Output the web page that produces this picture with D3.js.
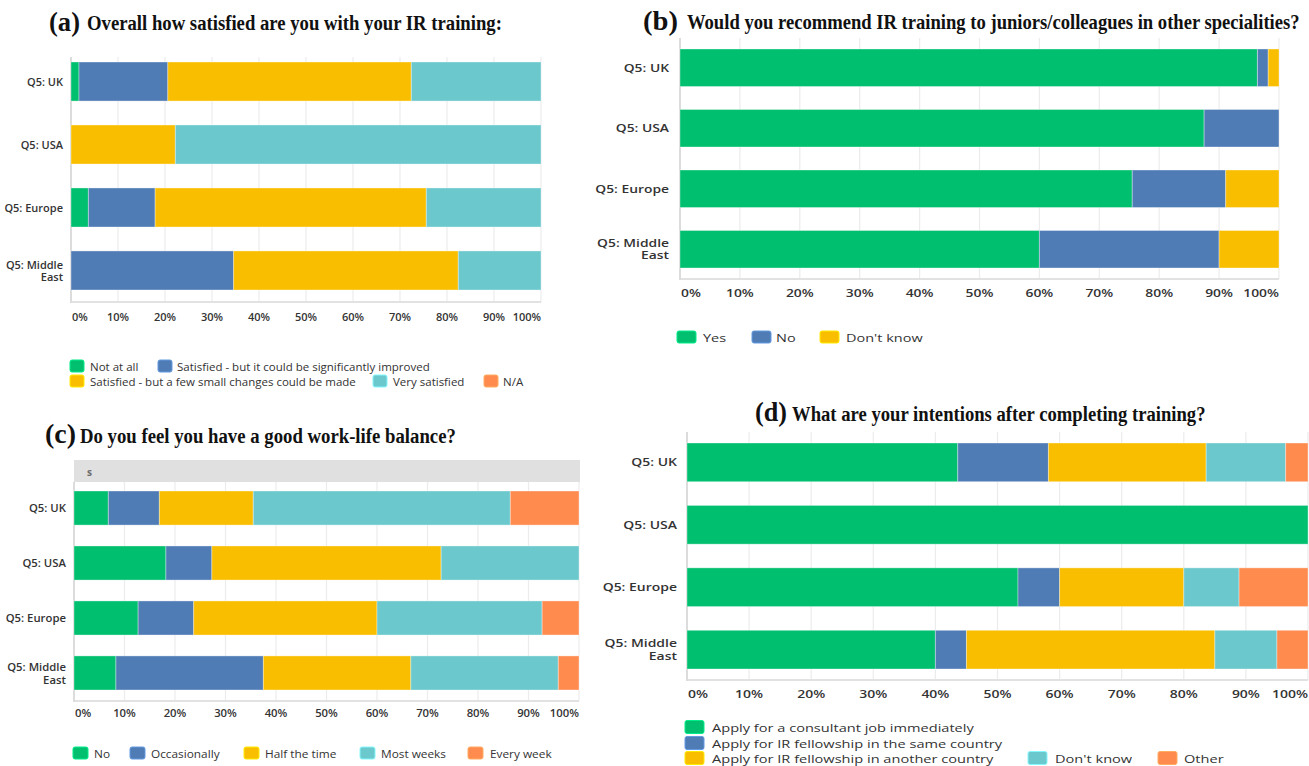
<!DOCTYPE html>
<html>
<head>
<meta charset="utf-8">
<script src="https://cdn.jsdelivr.net/npm/d3@7"></script>
<style>
  html, body { margin: 0; padding: 0; background: #fff; }
  svg { display: block; }
</style>
</head>
<body>
<svg id="chart" width="1309" height="766"></svg>
<script>
// ---- Data -----------------------------------------------------------------
const regions = ["Q5: UK", "Q5: USA", "Q5: Europe", "Q5: Middle East"];
const tickValues = [0, 10, 20, 30, 40, 50, 60, 70, 80, 90, 100];
const tickLabels = ["0%", "10%", "20%", "30%", "40%", "50%", "60%", "70%", "80%", "90%", "100%"];
const palette = ["#00BF6F", "#507CB6", "#F9BE00", "#6BC8CD", "#FF8B4F"];

// (a) satisfaction with training — one row per answer, values per region (%)
const satisfactionAnswers = [
  "Not at all",
  "Satisfied - but it could be significantly improved",
  "Satisfied - but a few small changes could be made",
  "Very satisfied",
  "N/A"
];
const satisfactionValues = [
  [1.7, 0, 3.7, 0],
  [18.9, 0, 14.2, 34.6],
  [51.8, 22.2, 57.7, 47.8],
  [27.6, 77.8, 24.4, 17.6],
  [0, 0, 0, 0]
];

// (b) would recommend IR training
const recommendAnswers = ["Yes", "No", "Don't know"];
const recommendValues = [
  [96.4, 87.5, 75.5, 60.0],
  [1.8, 12.5, 15.6, 30.0],
  [1.8, 0, 8.9, 10.0]
];

// (c) work-life balance
const balanceAnswers = ["No", "Occasionally", "Half the time", "Most weeks", "Every week"];
const balanceValues = [
  [6.8, 18.2, 12.7, 8.3],
  [10.1, 9.1, 11.0, 29.2],
  [18.6, 45.4, 36.3, 29.2],
  [50.9, 27.3, 32.7, 29.2],
  [13.6, 0, 7.3, 4.1]
];

// (d) intentions after training
const intentionAnswers = [
  "Apply for a consultant job immediately",
  "Apply for IR fellowship in the same country",
  "Apply for IR fellowship in another country",
  "Don't know",
  "Other"
];
const intentionValues = [
  [43.6, 100, 53.3, 40.0],
  [14.6, 0, 6.7, 5.0],
  [25.4, 0, 20.0, 40.0],
  [12.8, 0, 8.9, 10.0],
  [3.6, 0, 11.1, 5.0]
];

// ---- Panel layouts --------------------------------------------------------
const panels = [
  {
    tag: "(a)", title: "Overall how satisfied are you with your IR training:",
    answers: satisfactionAnswers, values: satisfactionValues,
    x0: 71, x1: 541, plotTop: 57, axisY: 302, barTop: 62, barBottom: 290,
    labelGap: 8, tickY: 316, sx: 1.0,
    titleTag: { x: 49, y: 31, len: 31, size: 28 },
    titleMain: { x: 87, y: 30, len: 415, size: 20 },
    swatch: { w: 14, h: 12 },
    legend: [[70, 90, 366], [158, 177, 366], [70, 90, 381], [373, 393, 381], [484, 503, 381]]
  },
  {
    tag: "(b)", title: "Would you recommend IR training to juniors/colleagues in other specialities?",
    answers: recommendAnswers, values: recommendValues,
    x0: 680, x1: 1279, plotTop: 38, axisY: 279, barTop: 49, barBottom: 268,
    labelGap: 11, tickY: 293, sx: 1.26,
    titleTag: { x: 643, y: 30, len: 35, size: 27 },
    titleMain: { x: 687, y: 29, len: 613, size: 21 },
    swatch: { w: 19, h: 12 },
    legend: [[677, 703, 337], [752, 776, 337], [820, 846, 337]]
  },
  {
    tag: "(c)", title: "Do you feel you have a good work-life balance?",
    answers: balanceAnswers, values: balanceValues,
    x0: 74, x1: 579, plotTop: 482, axisY: 701, barTop: 491, barBottom: 690,
    labelGap: 8, tickY: 713, sx: 1.03,
    header: { top: 460, bottom: 482, text: "s" },
    titleTag: { x: 45, y: 443, len: 31, size: 27 },
    titleMain: { x: 80, y: 443, len: 376, size: 20 },
    swatch: { w: 15, h: 12 },
    legend: [[73, 94, 753], [130, 151, 753], [244, 265, 753], [360, 381, 753], [468, 490, 753]]
  },
  {
    tag: "(d)", title: "What are your intentions after completing training?",
    answers: intentionAnswers, values: intentionValues,
    x0: 687, x1: 1308, plotTop: 432, axisY: 680, barTop: 443, barBottom: 669,
    labelGap: 10, tickY: 694, sx: 1.27,
    titleTag: { x: 755, y: 421, len: 32, size: 27 },
    titleMain: { x: 792, y: 421, len: 414, size: 20 },
    swatch: { w: 19, h: 13 },
    legend: [[685, 712, 727], [685, 712, 743], [685, 712, 758], [1028, 1055, 758], [1158, 1184, 758]]
  }
];

const svg = d3.select("#chart");
const SANS = "'Open Sans', 'Noto Sans', sans-serif";
const SERIF = "'Liberation Serif', 'Times New Roman', serif";

// Text helper: horizontally scaled text anchored at (x, y)
function stretchedText(g, x, y, str, sx, anchor, opts) {
  return g.append("text")
    .attr("transform", `translate(${x},${y}) scale(${sx},1)`)
    .attr("text-anchor", anchor)
    .attr("dominant-baseline", "central")
    .attr("font-family", SANS)
    .attr("font-size", opts.size)
    .attr("font-weight", opts.weight)
    .attr("fill", opts.fill)
    .text(str);
}

// Bold serif title text squeezed to a set width on its baseline
function fittedTitle(g, spec, str) {
  const t = g.append("text")
    .attr("font-family", SERIF).attr("font-weight", "bold")
    .attr("font-size", spec.size).attr("fill", "#111")
    .text(str);
  const natural = t.node().getComputedTextLength() || spec.len;
  t.attr("transform", `translate(${spec.x},${spec.y}) scale(${spec.len / natural},1)`);
  return t;
}

function drawPanel(p) {
  const g = svg.append("g");

  // Title: panel tag plus question
  fittedTitle(g, p.titleTag, p.tag);
  fittedTitle(g, p.titleMain, p.title);

  const x = d3.scaleLinear().domain([0, 100]).range([p.x0, p.x1]);
  const y = d3.scaleBand().domain(regions).range([p.barTop, p.barBottom])
    .paddingInner(0.38).paddingOuter(0);
  const color = d3.scaleOrdinal().domain(p.answers).range(palette);

  // Optional grey filter header above the plot
  if (p.header) {
    g.append("rect")
      .attr("x", p.x0).attr("y", p.header.top)
      .attr("width", p.x1 - p.x0 + 1).attr("height", p.header.bottom - p.header.top)
      .attr("fill", "#e0e0e0");
    g.append("text")
      .attr("x", p.x0 + 13).attr("y", (p.header.top + p.header.bottom) / 2 + 1)
      .attr("dominant-baseline", "central")
      .attr("font-family", SANS).attr("font-size", 10).attr("font-weight", 700)
      .attr("fill", "#6a6a6a").text(p.header.text);
  }

  // Vertical gridlines
  g.append("g").selectAll("line").data(tickValues.slice(1)).join("line")
    .attr("x1", d => x(d)).attr("x2", d => x(d))
    .attr("y1", p.plotTop).attr("y2", p.axisY)
    .attr("stroke", "#ececec").attr("stroke-width", 1.2);

  // Axis frame
  g.append("line")
    .attr("x1", p.x0).attr("x2", p.x1)
    .attr("y1", p.axisY).attr("y2", p.axisY)
    .attr("stroke", "#e2e2e2").attr("stroke-width", 2);
  g.append("line")
    .attr("x1", p.x0).attr("x2", p.x0)
    .attr("y1", p.plotTop).attr("y2", p.axisY + 1)
    .attr("stroke", "#dcdcdc").attr("stroke-width", 2);

  // Stacked bars
  const rows = regions.map((r, i) => {
    const row = { region: r };
    p.answers.forEach((a, k) => { row[a] = p.values[k][i]; });
    return row;
  });
  const stacked = d3.stack().keys(p.answers)(rows);
  g.append("g").selectAll("g").data(stacked).join("g")
    .attr("fill", d => color(d.key))
    .selectAll("rect").data(d => d.filter(s => s[1] - s[0] > 0)).join("rect")
    .attr("x", d => x(d[0]))
    .attr("y", d => y(d.data.region))
    .attr("width", d => x(d[1]) - x(d[0]))
    .attr("height", y.bandwidth())
    .attr("stroke", "#ffffff").attr("stroke-opacity", 0.35).attr("stroke-width", 1);

  // Category labels (long names wrap onto two lines)
  regions.forEach(r => {
    const cy = y(r) + y.bandwidth() / 2;
    const lines = r.length > 10 ? [r.slice(0, r.lastIndexOf(" ")), r.slice(r.lastIndexOf(" ") + 1)] : [r];
    lines.forEach((ln, i) => {
      const dy = (i - (lines.length - 1) / 2) * 12.5;
      stretchedText(g, p.x0 - p.labelGap, cy + dy, ln, p.sx, "end",
        { size: 11, weight: 600, fill: "#333" });
    });
  });

  // Tick labels: first flush left, last flush right, the rest centred
  tickValues.forEach((v, i) => {
    const anchor = i === 0 ? "start" : (i === tickValues.length - 1 ? "end" : "middle");
    stretchedText(g, x(v) + (i === 0 ? 1 : 0), p.tickY, tickLabels[i], p.sx, anchor,
      { size: 11, weight: 600, fill: "#333" });
  });

  // Legend
  p.answers.forEach((a, k) => {
    const [sw, tx, ly] = p.legend[k];
    g.append("rect")
      .attr("x", sw).attr("y", ly - p.swatch.h / 2)
      .attr("width", p.swatch.w).attr("height", p.swatch.h)
      .attr("rx", 2).attr("fill", color(a))
      .attr("stroke", d3.color(color(a)).brighter(0.6)).attr("stroke-width", 1);
    stretchedText(g, tx, ly + 0.5, a, p.sx, "start",
      { size: 11.5, weight: 400, fill: "#333" });
  });
}

panels.forEach(drawPanel);
</script>
</body>
</html>
